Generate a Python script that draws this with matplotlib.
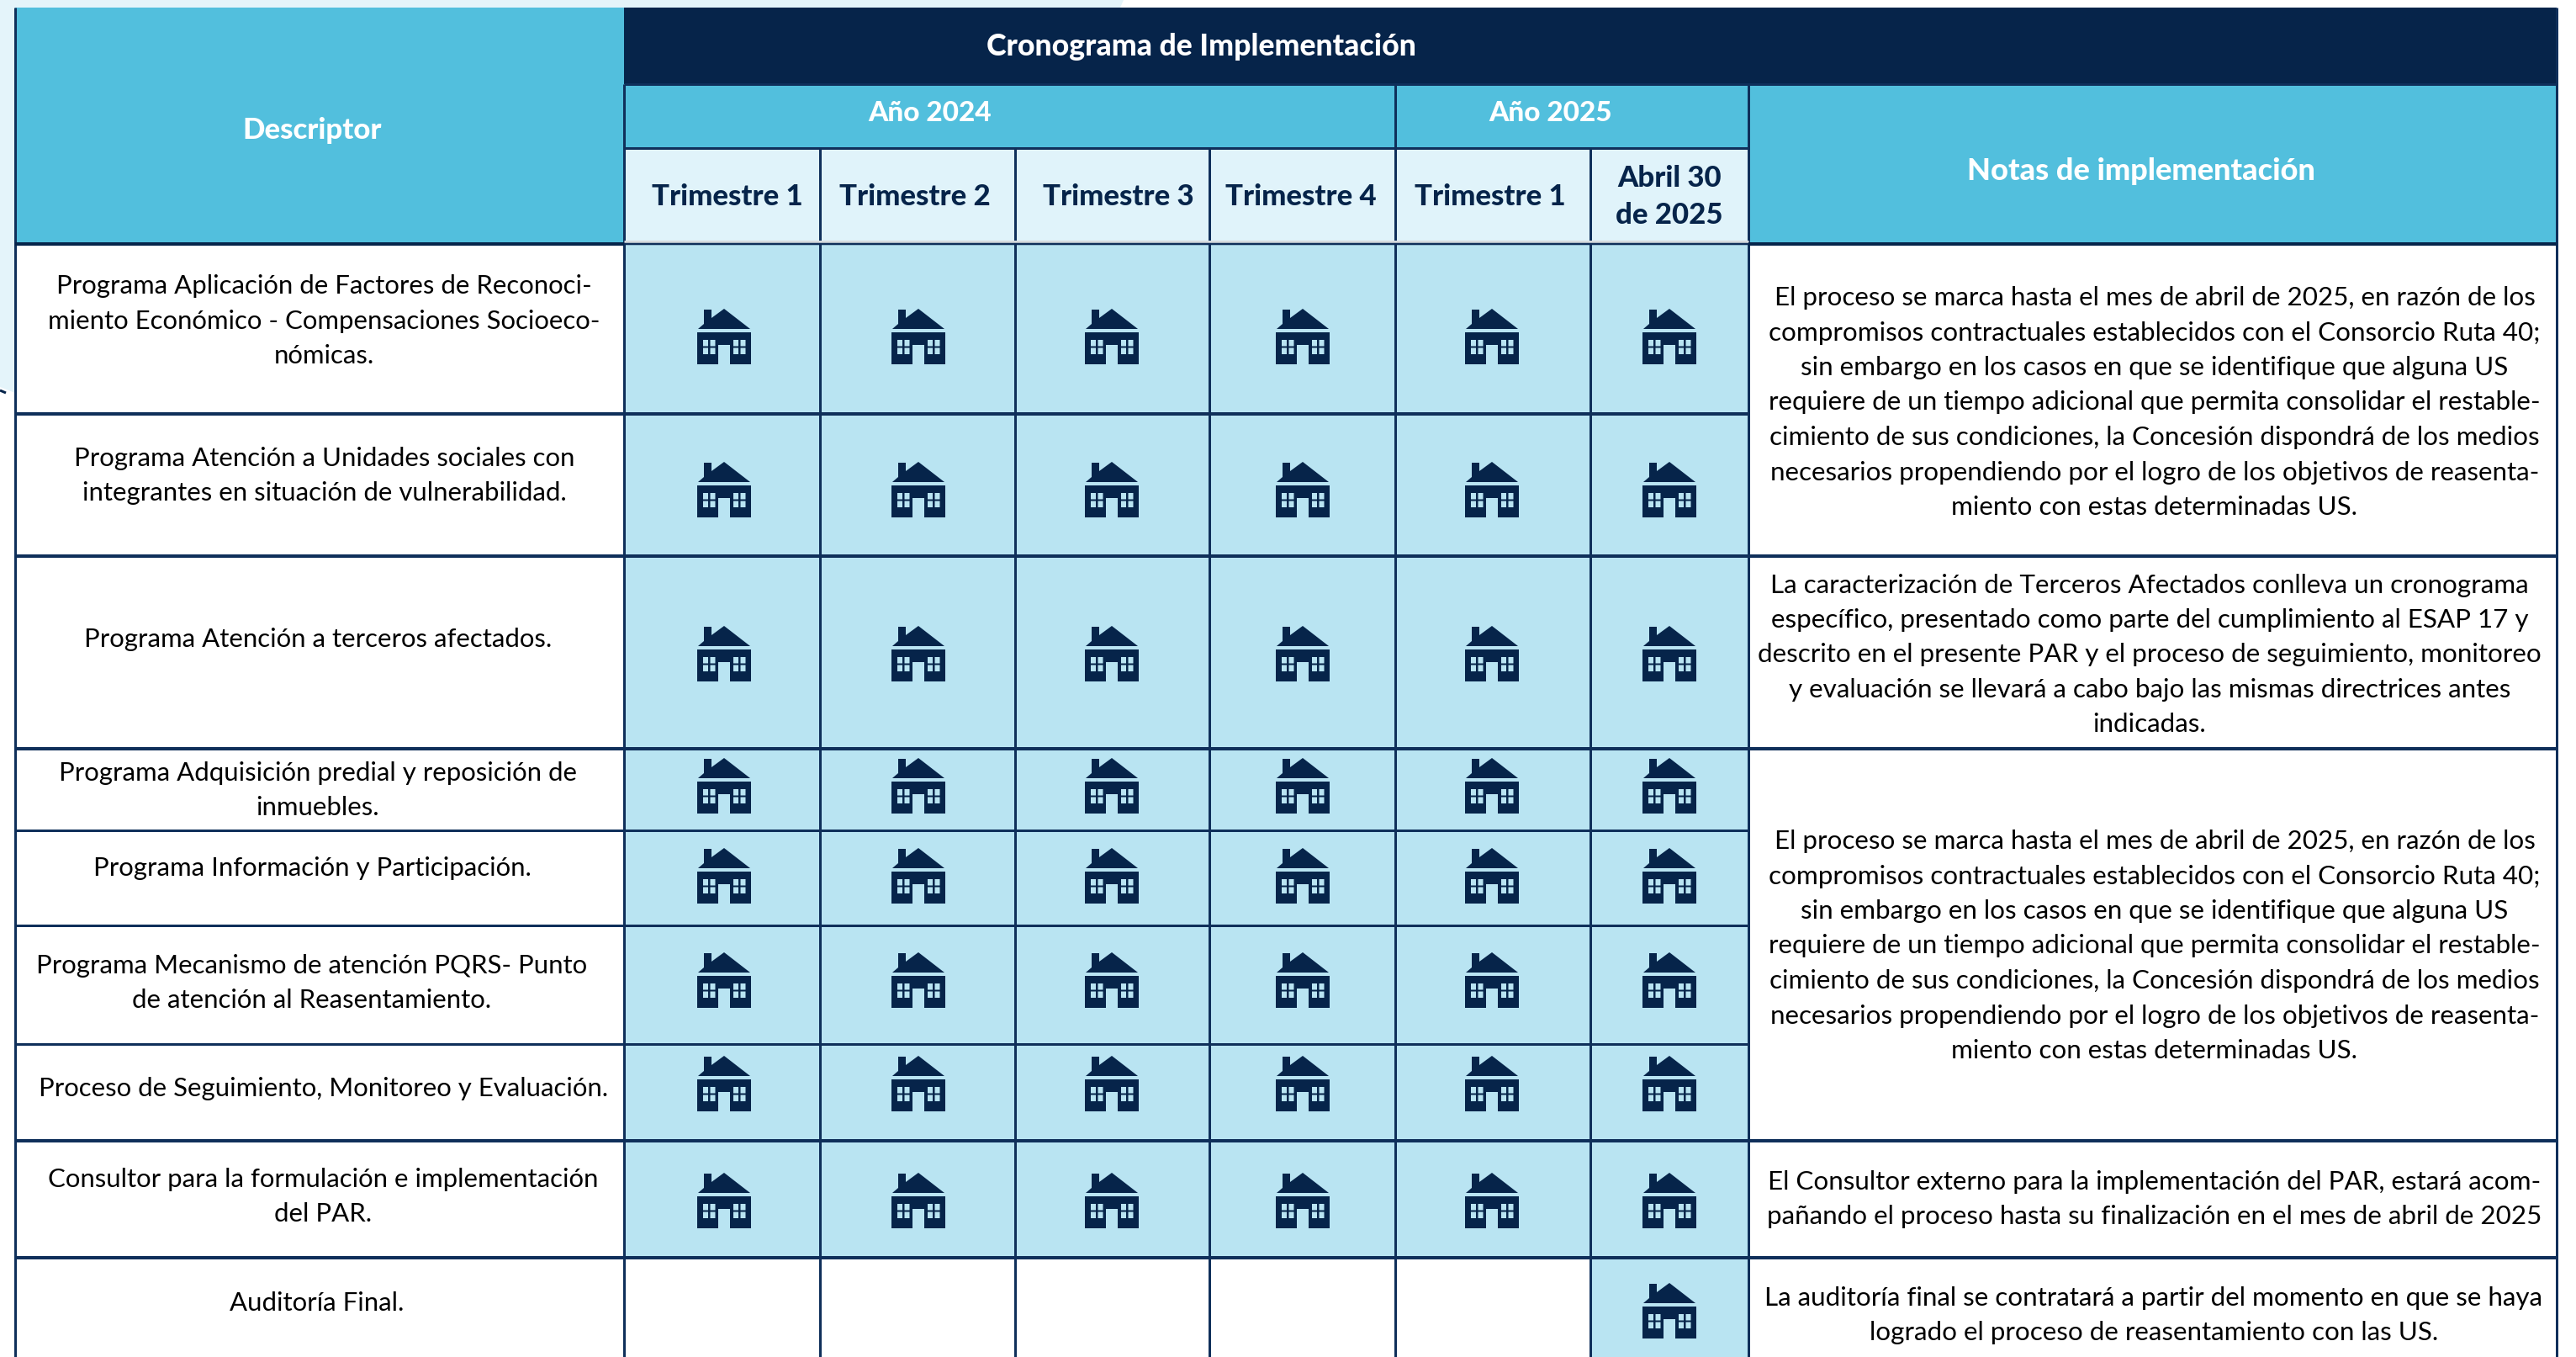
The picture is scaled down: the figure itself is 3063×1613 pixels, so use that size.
#!/usr/bin/python3
import matplotlib
matplotlib.use("Agg")
import matplotlib.pyplot as plt
from matplotlib.patches import Rectangle, PathPatch, Polygon
from matplotlib.path import Path
from matplotlib.transforms import Affine2D

DARK = "#06244A"
GRID = "#0F2F5A"
HEAD = "#52BFDD"
SUBHEAD = "#E0F3FA"
CELL = "#B9E4F2"
BACK = "#E4F4FA"
FONT = "Lato"

# column and row edges, in pixels of the picture
colEdges = [742, 975, 1207, 1438, 1659, 1891, 2079, 3040]
rowEdges = [290, 492, 661, 890, 987, 1100, 1241, 1356, 1495, 1613]

trimestres = ["Trimestre 1", "Trimestre 2", "Trimestre 3", "Trimestre 4", "Trimestre 1", "Abril 30\nde 2025"]
trimestreX = [865, 1088, 1330, 1547, 1772, 1985]

descriptores = [
    "Programa Aplicación de Factores de Reconoci-\nmiento Económico - Compensaciones Socioeco-\nnómicas.",
    "Programa Atención a Unidades sociales con\nintegrantes en situación de vulnerabilidad.",
    "Programa Atención a terceros afectados.",
    "Programa Adquisición predial y reposición de\ninmuebles.",
    "Programa Información y Participación.",
    "Programa Mecanismo de atención PQRS- Punto\nde atención al Reasentamiento.",
    "Proceso de Seguimiento, Monitoreo y Evaluación.",
    "Consultor para la formulación e implementación\ndel PAR.",
    "Auditoría Final.",
]
descX = [385, 386, 378, 378, 371, 371, 385, 384, 377]
descY = [379, 563, 758, 937, 1029, 1166, 1292, 1420, 1546]

# 1 = the quarter has a house
marcas = [
    [1, 1, 1, 1, 1, 1],
    [1, 1, 1, 1, 1, 1],
    [1, 1, 1, 1, 1, 1],
    [1, 1, 1, 1, 1, 1],
    [1, 1, 1, 1, 1, 1],
    [1, 1, 1, 1, 1, 1],
    [1, 1, 1, 1, 1, 1],
    [1, 1, 1, 1, 1, 1],
    [0, 0, 0, 0, 0, 1],
]
iconX = [861, 1092, 1322, 1549, 1774, 1985]
iconY = [400, 582, 777, 934, 1041, 1165, 1288, 1427, 1558]

notaProceso = ("El proceso se marca hasta el mes de abril de 2025, en razón de los\n"
               "compromisos contractuales establecidos con el Consorcio Ruta 40;\n"
               "sin embargo en los casos en que se identifique que alguna US\n"
               "requiere de un tiempo adicional que permita consolidar el restable-\n"
               "cimiento de sus condiciones, la Concesión dispondrá de los medios\n"
               "necesarios propendiendo por el logro de los objetivos de reasenta-\n"
               "miento con estas determinadas US.")
notas = [
    notaProceso,
    ("La caracterización de Terceros Afectados conlleva un cronograma\n"
     "específico, presentado como parte del cumplimiento al ESAP 17 y\n"
     "descrito en el presente PAR y el proceso de seguimiento, monitoreo\n"
     "y evaluación se llevará a cabo bajo las mismas directrices antes\n"
     "indicadas."),
    notaProceso,
    ("El Consultor externo para la implementación del PAR, estará acom-\n"
     "pañando el proceso hasta su finalización en el mes de abril de 2025"),
    ("La auditoría final se contratará a partir del momento en que se haya\n"
     "logrado el proceso de reasentamiento con las US."),
]
notaX = [2562, 2556, 2562, 2562, 2561]
notaY = [476, 776, 1122, 1423, 1561]
# rows where a note cell ends
notaEdges = [661, 890, 1356, 1495]


def rect(x0, y0, x1, y1, color, z=1):
    ax.add_patch(Rectangle((x0, y0), x1 - x0, y1 - y0, facecolor=color, edgecolor="none", zorder=z))


def linea(x0, y0, x1, y1, w=3.0, color=GRID):
    ax.plot([x0, x1], [y0, y1], color=color, lw=w * 0.72, solid_capstyle="butt", zorder=3)


def bloque(x, y, s, spacing=41.5, **kw):
    # each line on its own so the spacing stays the same as in the picture
    lines = s.split("\n")
    top = y - spacing * (len(lines) - 1) / 2
    for i, line in enumerate(lines):
        ax.text(x, top + i * spacing, line, ha="center", va="center_baseline", family=FONT, zorder=5, **kw)


def housePath():
    verts = []
    codes = []

    def poly(pts):
        verts.extend(pts + [pts[0]])
        codes.extend([Path.MOVETO] + [Path.LINETO] * (len(pts) - 1) + [Path.CLOSEPOLY])

    # roof with chimney
    poly([(-31, -9), (-24, -15), (-24, -32), (-15, -32), (-15, -22), (0, -33), (31, -9)])
    # body with door gap
    poly([(-32, -5), (32, -5), (32, 33), (7, 33), (7, 10), (-7, 10), (-7, 33), (-32, 33)])
    # windows, wound the other way to make holes
    for wx in [-25, -16.5, 11, 19.5]:
        for wy in [4, 13.5]:
            poly([(wx, wy), (wx, wy + 7.5), (wx + 6, wy + 7.5), (wx + 6, wy)])
    return Path(verts, codes)


fig = plt.figure(figsize=(30.63, 16.13), dpi=100, facecolor="white")
ax = fig.add_axes([0, 0, 1, 1])
ax.set_xlim(0, 3063)
ax.set_ylim(1613, 0)
ax.axis("off")

# page background
ax.add_patch(Polygon([(0, 0), (1336, 0), (1332, 9), (18, 9), (18, 467), (0, 460)],
                     facecolor=BACK, edgecolor="none", zorder=0))
linea(0, 464, 7, 467, 3, DARK)

# table header
rect(18, 9, 742, 290, HEAD)
rect(742, 9, 3040, 100, DARK)
rect(742, 100, 2079, 176, HEAD)
rect(2079, 100, 3040, 290, HEAD)
rect(742, 176, 2079, 290, SUBHEAD)

# body
rect(18, 290, 742, 1613, "white")
rect(2079, 290, 3040, 1613, "white")
rect(742, 290, 2079, rowEdges[8], CELL)
rect(742, rowEdges[8], 1891, 1613, "white")
rect(1891, rowEdges[8], 2079, 1613, CELL)

# grid
linea(18, 9, 18, 1613)
linea(742, 100, 742, 1613)
linea(2079, 100, 2079, 1613)
linea(3040, 9, 3040, 1613)
linea(1659, 100, 1659, 176)
for x in colEdges[1:6]:
    linea(x, 176, x, 1613)
linea(742, 100, 3040, 100)
linea(742, 176, 2079, 176)
linea(742, 287, 2079, 287, 3, "#D5DADD")
linea(18, 290, 742, 290, 4, DARK)
linea(742, 290, 2079, 290, 2.5)
linea(2079, 290, 3040, 290, 4, DARK)
for y in rowEdges[1:-1]:
    linea(18, y, 2079, y, 4 if y in (492, 661, 890, 1356, 1495) else 3)
for y in notaEdges:
    linea(2079, y, 3040, y, 4)

# header text
bloque(1428, 52, "Cronograma de Implementación", color="white", fontsize=25.7, fontweight="black")
bloque(371, 152, "Descriptor", color="white", fontsize=25, fontweight="black")
bloque(1106, 132, "Año 2024", color="white", fontsize=24, fontweight="black")
bloque(1844, 132, "Año 2025", color="white", fontsize=24, fontweight="black")
bloque(2546, 201, "Notas de implementación", color="white", fontsize=26, fontweight="black")
for x, t in zip(trimestreX, trimestres):
    bloque(x, 231, t, spacing=43, color=DARK, fontsize=25, fontweight="black")

# row labels and notes
for x, y, t in zip(descX, descY, descriptores):
    bloque(x, y, t, color="black", fontsize=22.4)
for x, y, t in zip(notaX, notaY, notas):
    bloque(x, y, t, color="black", fontsize=22.6)

# houses
house = housePath()
for r, fila in enumerate(marcas):
    for c, m in enumerate(fila):
        if m:
            ax.add_patch(PathPatch(house, facecolor=DARK, edgecolor="none", zorder=4,
                                   transform=Affine2D().translate(iconX[c], iconY[r]) + ax.transData))

fig.savefig("out.png", dpi=100)
